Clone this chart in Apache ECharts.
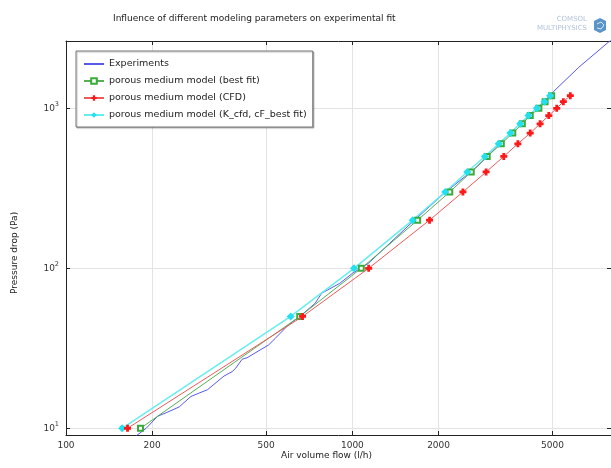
<!DOCTYPE html>
<html>
<head>
<meta charset="utf-8">
<script src="https://cdn.jsdelivr.net/npm/echarts@6/dist/echarts.min.js"></script>
<style>html,body{margin:0;padding:0;background:#fff}#c{width:611px;height:468px}</style>
</head>
<body>
<div id="c"></div>
<script>
// ---- data ----
const titleText = 'Influence of different modeling parameters on experimental fit';
const xTicks = [100, 200, 500, 1000, 2000, 5000];
const yTicks = [10, 100, 1000];
const yModel = [10, 50, 100, 200, 300, 400, 500, 600, 700, 800, 900, 1000, 1100, 1200];
const xBestFit = [182, 655, 1074, 1690, 2188, 2600, 2956, 3311, 3632, 3921, 4178, 4479, 4710, 4965];
const xCfd = [164, 670, 1140, 1860, 2432, 2931, 3378, 3784, 4178, 4524, 4851, 5170, 5454, 5768];
const xKcfd = [157, 609, 1013, 1624, 2109, 2518, 2901, 3243, 3561, 3855, 4120, 4405, 4686, 4900];
const expFlow = [172, 190.5, 209, 223.6, 248.5, 272.9, 291.6, 311.7, 356, 380.4, 391, 412, 429, 510, 538, 598, 665, 741, 781, 904, 1000, 1134, 1602, 2091, 2729, 3500, 4400, 5035, 6176, 7500, 8000];
const expDp = [8.7, 10, 11.9, 12.5, 13.6, 15.8, 16.6, 17.4, 21.2, 22.6, 23.7, 27, 27.6, 33.2, 36.5, 44.3, 51.1, 60.4, 69.8, 80.6, 93, 107, 191, 294, 432, 680, 1000, 1271, 1805, 2425, 2675];
const seriesNames = ['Experiments', 'porous medium model (best fit)', 'porous medium model (CFD)', 'porous medium model (K_cfd, cF_best fit)'];

const zip = (xs, ys) => xs.map((x, i) => [x, ys[i]]);
const FONT = 'DejaVu Sans';
const plusPath = 'path://M3,0h4v3h3v4h-3v3h-4v-3h-3v-4h3z';

const chart = echarts.init(document.getElementById('c'), null, {renderer: 'canvas'});
const axisCommonX = {
  type: 'log', min: 100, max: 8000,
  axisLine: {show: true, lineStyle: {color: '#222', width: 1}},
  axisTick: {show: true, inside: true, length: 4, customValues: xTicks, lineStyle: {color: '#222'}},
  minorTick: {show: false}
};
const axisCommonY = {
  type: 'log', min: 9.08, max: 2634,
  axisLine: {show: true, lineStyle: {color: '#222', width: 1}},
  axisTick: {show: true, inside: true, length: 4, customValues: yTicks, lineStyle: {color: '#222'}},
  minorTick: {show: false}
};
chart.setOption({
  animation: false,
  backgroundColor: '#fff',
  textStyle: {fontFamily: FONT},
  title: {
    text: titleText, left: 108, top: 9,
    textStyle: {fontFamily: FONT, fontSize: 9, fontWeight: 'normal', color: '#222'}
  },
  grid: {left: 66, top: 41, width: 548.7, height: 394, containLabel: false},
  legend: {
    data: [
      {name: seriesNames[0], itemStyle: {opacity: 0}},
      {name: seriesNames[1]},
      {name: seriesNames[2]},
      {name: seriesNames[3]}
    ],
    orient: 'vertical', left: 76, top: 51,
    padding: [6, 6, 5, 7], itemGap: 3, itemWidth: 20, itemHeight: 7,
    backgroundColor: '#fff', borderColor: '#777', borderWidth: 1, borderRadius: 0,
    shadowColor: 'rgba(0,0,0,0.25)', shadowBlur: 1, shadowOffsetX: 1, shadowOffsetY: 1,
    textStyle: {fontFamily: FONT, fontSize: 9.5, color: '#222', lineHeight: 14}
  },
  xAxis: [
    Object.assign({}, axisCommonX, {
      position: 'bottom',
      axisLabel: {show: true, customValues: xTicks, margin: 6, fontFamily: FONT, fontSize: 9, color: '#333',
        formatter: v => String(Math.round(v))},
      splitLine: {show: true, lineStyle: {color: '#e3e3e3', width: 1}}
    }),
    Object.assign({}, axisCommonX, {
      position: 'top',
      axisLabel: {show: false},
      splitLine: {show: false}
    })
  ],
  yAxis: [
    Object.assign({}, axisCommonY, {
      position: 'left',
      axisLabel: {show: true, customValues: yTicks, margin: 7, fontFamily: FONT, fontSize: 9, color: '#333',
        formatter: v => '10{s|' + Math.round(Math.log10(v)) + '}',
        rich: {s: {fontSize: 6.5, fontFamily: FONT, color: '#333', padding: [0, 0, 7, 0]}}},
      splitLine: {show: true, lineStyle: {color: '#e3e3e3', width: 1}}
    }),
    Object.assign({}, axisCommonY, {
      position: 'right',
      axisLabel: {show: false},
      splitLine: {show: false}
    })
  ],
  series: [
    {
      name: seriesNames[0], type: 'line', data: zip(expFlow, expDp),
      symbol: 'none', lineStyle: {color: '#5858ec', width: 1}, itemStyle: {color: '#5858ec'}, z: 2
    },
    {
      name: seriesNames[1], type: 'line', data: zip(xBestFit, yModel),
      symbol: 'emptyRect', symbolSize: 5, showAllSymbol: true,
      lineStyle: {color: '#55b055', width: 1},
      itemStyle: {color: '#3aaa3a', borderColor: '#3aaa3a', borderWidth: 1}, z: 3
    },
    {
      name: seriesNames[2], type: 'line', data: zip(xCfd, yModel),
      symbol: plusPath, symbolSize: 7, showAllSymbol: true,
      lineStyle: {color: '#ec5a5a', width: 1},
      itemStyle: {color: '#ff1818'}, z: 4
    },
    {
      name: seriesNames[3], type: 'line', data: zip(xKcfd, yModel),
      symbol: 'diamond', symbolSize: 8, showAllSymbol: true,
      lineStyle: {color: '#66eeee', width: 1.5},
      itemStyle: {color: '#22e0ee'}, z: 3
    }
  ],
  graphic: [
    {type: 'text', left: 281, top: 451, style: {text: 'Air volume flow (l/h)', font: '9px "DejaVu Sans"', fill: '#222'}},
    {type: 'text', x: 10, y: 294, rotation: Math.PI / 2, style: {text: 'Pressure drop (Pa)', font: '9px "DejaVu Sans"', fill: '#222'}},
    {type: 'text', right: 24, top: 16, style: {text: 'COMSOL', font: '7px "DejaVu Sans"', fill: '#b4c4dc', align: 'right'}},
    {type: 'text', right: 24, top: 25, style: {text: 'MULTIPHYSICS', font: '7px "DejaVu Sans"', fill: '#b4c4dc', align: 'right'}},
    {type: 'polygon', shape: {points: [[594, 21], [600, 18], [606, 21], [606, 30], [600, 33], [594, 30]]}, style: {fill: '#5a94c8'}},
    {type: 'polyline', shape: {points: [[597, 24], [601, 22], [604, 25], [601, 29], [597, 28]]}, style: {stroke: '#d8e8f4', lineWidth: 1, fill: null}}
  ]
});
</script>
</body>
</html>
